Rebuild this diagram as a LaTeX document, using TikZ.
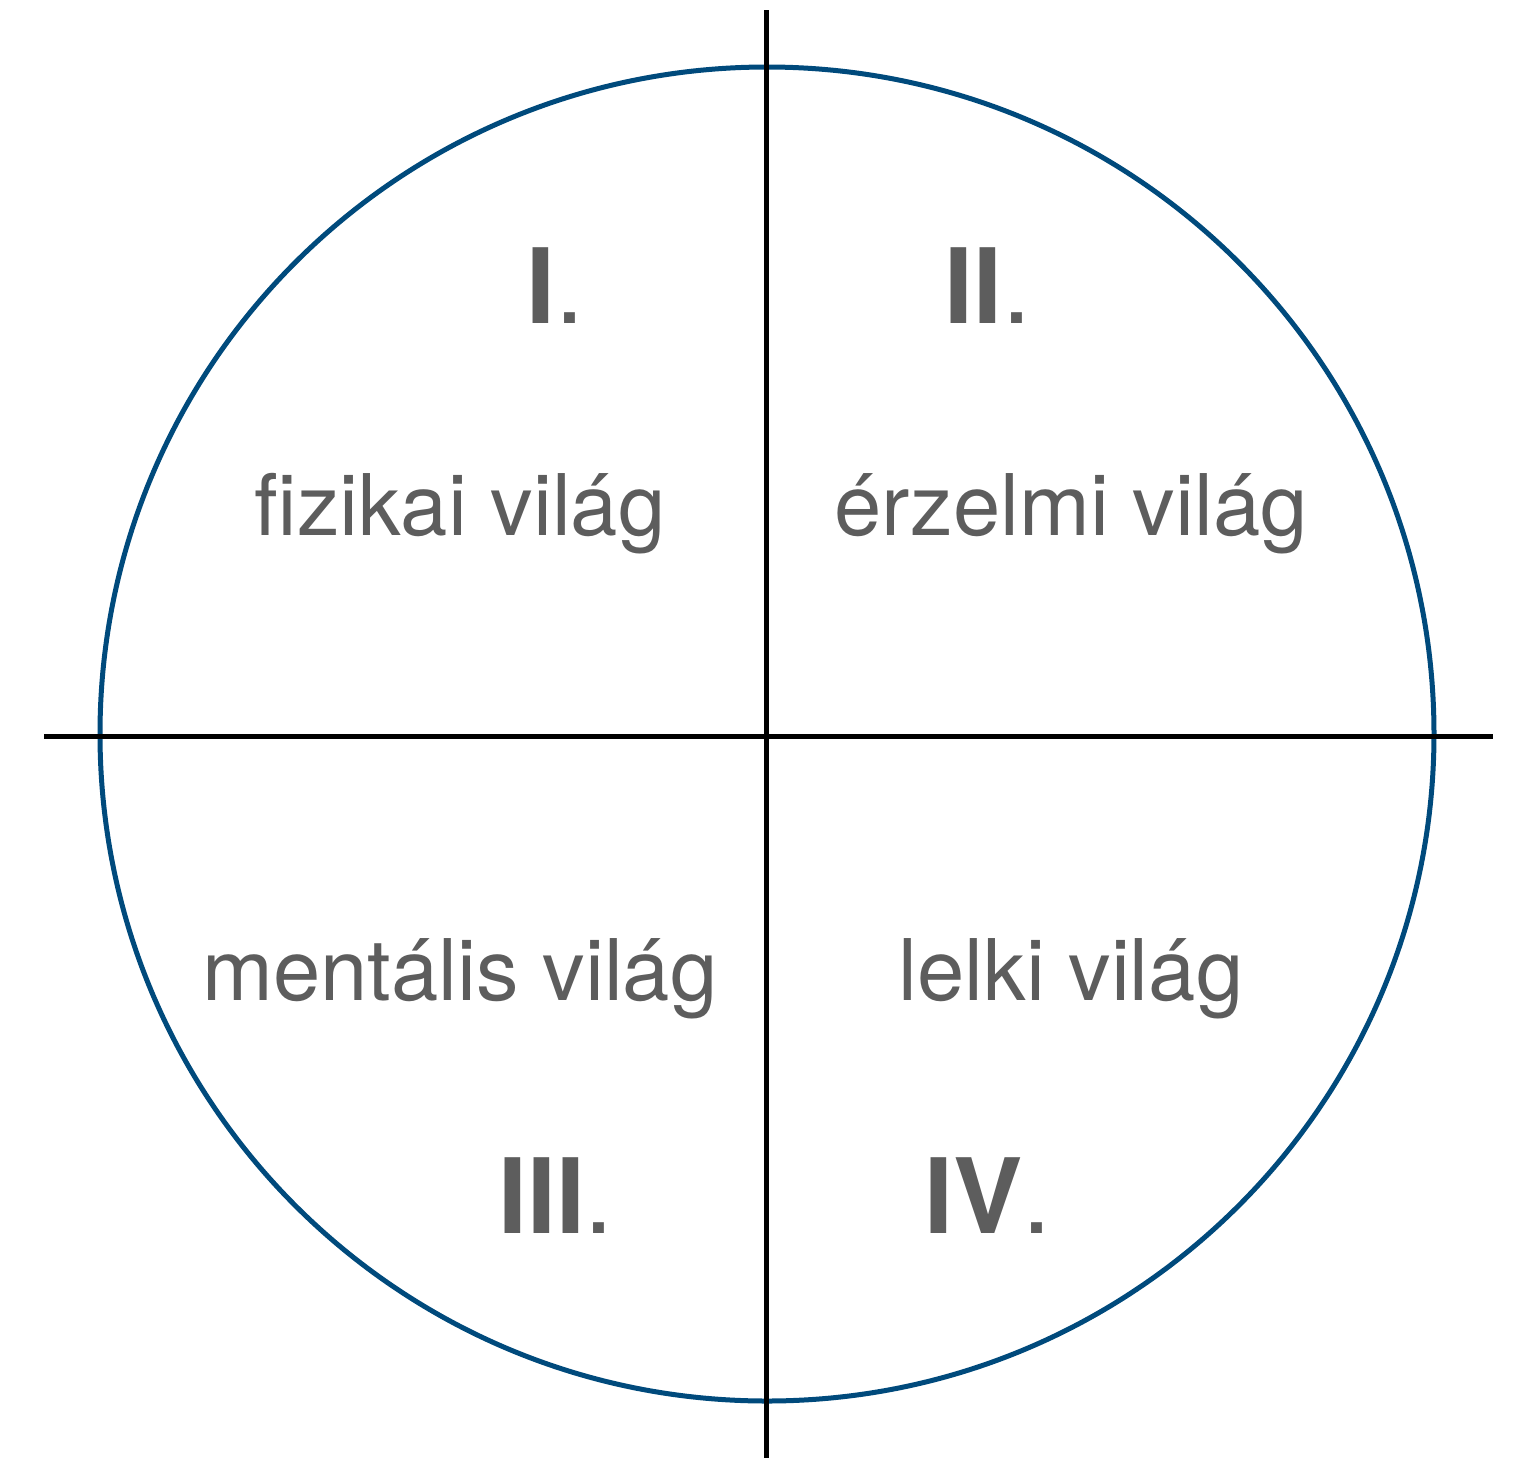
\documentclass[tikz,border=0pt]{standalone}
\usepackage{fontspec}
\setmainfont{TeX Gyre Heros}
\definecolor{ringblue}{HTML}{004A7C}
\definecolor{labelgray}{HTML}{5D5D5D}
\begin{document}
\begin{tikzpicture}[x=0.5pt,y=-0.5pt,
  axis/.style={line width=2.5pt,black},
  ring/.style={line width=2.5pt,ringblue},
  world/.style={anchor=base,inner sep=0pt,text=labelgray,font=\fontsize{42.5}{50}\selectfont},
  numeral/.style={anchor=base,inner sep=0pt,text=labelgray,font=\fontsize{52}{60}\selectfont}]
  \useasboundingbox (0,0) rectangle (1522,1458);
  % the circle of the four worlds
  \node[draw,ring,circle,minimum size=667pt,inner sep=0pt] (circ) at (767,734) {};
  % dividing axes
  \coordinate (vtop) at (766,10);
  \coordinate (vbot) at (766,1458);
  \coordinate (hleft) at (44,736);
  \coordinate (hright) at (1493,736);
  \draw[axis] (vtop) -- (vbot);
  \draw[axis] (hleft) -- (hright);
  % quadrant numerals
  \node[numeral] (n1) at (555,323) {\textbf{I}.};
  \node[numeral] (n2) at (988,323) {\textbf{II}.};
  \node[numeral] (n3) at (556,1233) {\textbf{III}.};
  \node[numeral] (n4) at (988,1233) {\textbf{IV}.};
  % quadrant names
  \node[world] (w1) at (460,535) {fizikai világ};
  \node[world] (w2) at (1071,535) {érzelmi világ};
  \node[world] (w3) at (460,1000) {mentális világ};
  \node[world] (w4) at (1071,1000) {lelki világ};
\end{tikzpicture}
\end{document}
